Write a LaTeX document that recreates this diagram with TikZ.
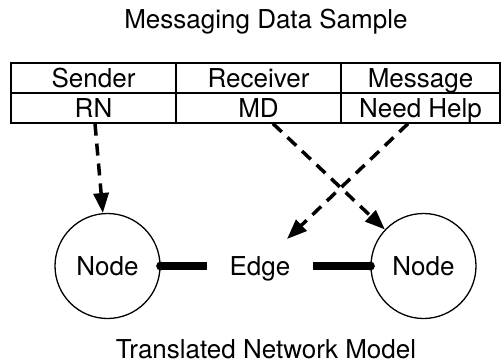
\documentclass[tikz,border=0pt]{standalone}
\usepackage{fontspec}
\setmainfont{TeX Gyre Heros}
\usetikzlibrary{arrows.meta}
\tikzset{
  txt/.style={font=\fontsize{26}{30}\selectfont},
  cell/.style={draw, line width=1.3pt, inner sep=0pt, minimum height=30pt,
    text height=18.7pt, text depth=0pt, txt},
  netnode/.style={draw, circle, line width=1.3pt, minimum size=105pt, inner sep=0pt,
    text height=18.7pt, text depth=0pt, txt},
  edgelabel/.style={inner xsep=22pt, inner ysep=0pt, text height=18.7pt, text depth=0pt, txt},
  dasharrow/.style={line width=3.5pt, dash pattern=on 12pt off 8pt,
    -{Triangle[length=20pt,width=15pt]}},
  thickline/.style={line width=7.5pt},
  dot/.style={fill=black}
}
\begin{document}
\begin{tikzpicture}[x=1pt,y=-1pt]
\useasboundingbox (0,0) rectangle (501,364);
\node[txt, anchor=base] (title) at (266,28) {Messaging Data Sample};
\node[txt, anchor=base] (subtitle) at (266,358) {Translated Network Model};
% table
\node[cell, minimum width=165pt] (sender) at (93.5,78) {Sender};
\node[cell, minimum width=165pt] (receiver) at (258.5,78) {Receiver};
\node[cell, minimum width=159pt] (message) at (420.5,78) {Message};
\node[cell, minimum width=165pt] (rn) at (93.5,108) {RN};
\node[cell, minimum width=165pt] (md) at (258.5,108) {MD};
\node[cell, minimum width=159pt] (help) at (420.5,108) {Need Help};
% network
\node[netnode] (n1) at (107.5,266) {Node};
\node[netnode] (n2) at (423.5,266) {Node};
\node[edgelabel] (edge) at (260,266) {Edge};
\coordinate (edgetip) at (287,239);
\draw[thickline] (n1) -- (edge);
\draw[thickline] (edge) -- (n2);
\fill[dot] (n1.east) circle (4.5pt);
\fill[dot] (n2.west) circle (4.5pt);
% mapping arrows
\draw[dasharrow] ([xshift=1.5pt]rn.south) -- (n1);
\draw[dasharrow] ([xshift=14.5pt]md.south) -- (n2);
\draw[dasharrow] ([xshift=-12.5pt]help.south) -- (edgetip);
\end{tikzpicture}
\end{document}
